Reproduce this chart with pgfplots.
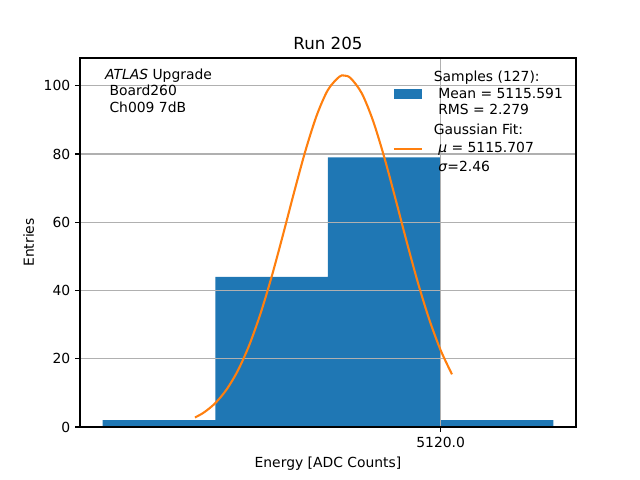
\documentclass[border=0pt]{standalone}
\usepackage{pgfplots}
\pgfplotsset{compat=1.18}
\usepackage{fontspec}
\setmainfont{DejaVu Sans}
\definecolor{c0}{RGB}{31,119,180}
\definecolor{c1}{RGB}{255,127,14}
\definecolor{gridc}{RGB}{176,176,176}
\begin{document}
\begin{tikzpicture}
\begin{axis}[
  set layers,
  at={(57.6pt,38.16pt)}, anchor=south west,
  scale only axis, width=357.1pt, height=265.7pt,
  xmin=5104, xmax=5126, ymin=0, ymax=108.15,
  xtick={5120}, xticklabels={5120.0},
  ytick={0,20,40,60,80,100},
  xtick pos=bottom, ytick pos=left,
  grid=major, grid style={gridc, line width=0.8pt},
  axis line style={line width=0.8pt},
  tick align=outside, major tick length=3.5pt,
  every tick/.style={black, line width=0.8pt},
  ticklabel style={font=\fontsize{10}{12}\selectfont},
  /pgf/number format/assume math mode=true,
  title={Run 205},
  every axis title shift=0pt,
  title style={font=\fontsize{12}{14.4}\selectfont, at={(0.5,1)}, anchor=base, yshift=6pt},
  xlabel={Energy [ADC Counts]}, ylabel={Entries},
  label style={font=\fontsize{10}{12}\selectfont},
  legend cell align=left,
  legend style={draw=none, fill=none, at={(1,1)}, anchor=north east,
    xshift=-9.4pt, yshift=-9.4pt, inner sep=0pt, outer sep=0pt,
    font=\fontsize{10}{12}\selectfont, row sep=5pt,
    nodes={align=left, inner sep=0pt, outer sep=0pt}},
]
\addplot[const plot mark left, fill=c0, draw=none, on layer=axis background,
  legend image code/.code={\fill[c0] (0pt,-3.5pt) rectangle (20pt,3.5pt); \path (28pt,0pt);}]
  coordinates {(5105,0) (5105,2) (5110,44) (5115,79) (5120,2) (5125,2) (5125,0)} \closedcycle;
\addlegendentry{Samples (127):\\\hspace*{3.2pt}Mean = 5115.591\\\hspace*{3.2pt}RMS = 2.279}
\addplot[c1, line width=1.5pt, smooth,
  legend image code/.code={\draw[c1, line width=1.5pt] (0pt,0pt) -- (20pt,0pt); \path (28pt,0pt);}]
  coordinates {
  (5109.1,2.79) (5109.5,4.27) (5110,6.99) (5110.5,10.97) (5111,16.51)
  (5111.5,23.87) (5112,33.10) (5112.5,44.03) (5113,56.22) (5113.5,68.87)
  (5114,80.96) (5114.5,91.32) (5115,98.83) (5115.5,102.64) (5115.707,103.0)
  (5116,102.27) (5116.5,97.79) (5117,89.71) (5117.5,78.97) (5118,66.71)
  (5118.5,54.07) (5119,42.04) (5119.5,31.37) (5120,22.46) (5120.5,15.44)};
\addlegendentry{Gaussian Fit:\\[1.2pt]\hspace*{3.2pt}\textit{μ} = 5115.707\\[1.2pt]\hspace*{3.2pt}\textit{σ}=2.46}
\node[anchor=base west, inner sep=0pt, align=left, font=\fontsize{10}{12}\selectfont]
  at (rel axis cs:0.05,0.852) {\textit{ATLAS} Upgrade\\\hspace*{3.2pt}Board260\\\hspace*{3.2pt}Ch009 7dB};
\end{axis}
\pgfresetboundingbox
\path (0pt,0pt) rectangle (460.8pt,345.6pt);
\end{tikzpicture}
\end{document}
